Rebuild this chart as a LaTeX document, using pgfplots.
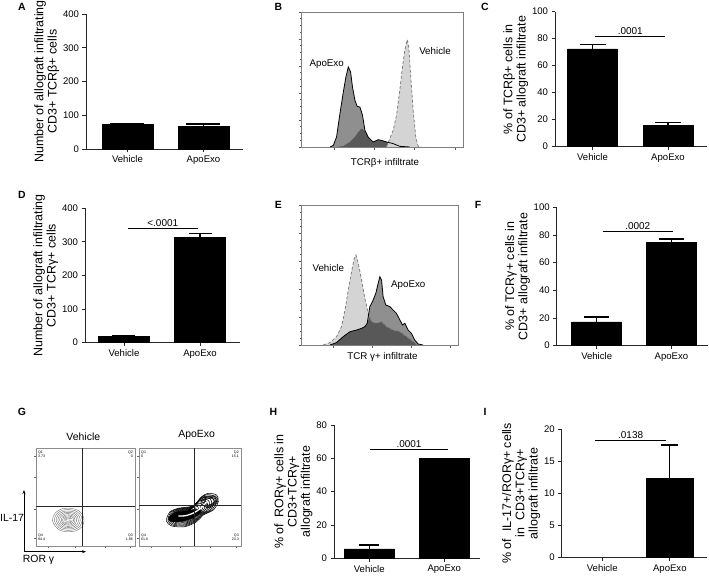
\documentclass[border=0pt]{standalone}
\usepackage{fontspec}
\setmainfont{Liberation Sans}
\usepackage{pgfplots}
\usepackage{pgfplotstable}
\pgfplotsset{compat=1.18}
\usetikzlibrary{arrows.meta}

\definecolor{histmid}{HTML}{8F8F8F}
\definecolor{histdark}{HTML}{585858}
\definecolor{histlight}{HTML}{D4D4D4}

\newcommand{\lfont}{\fontsize{12.5}{13.3}\selectfont}
\newcommand{\tfont}{\fontsize{9.6}{11}\selectfont}

\pgfplotsset{
 prism/.style={
   scale only axis, anchor=south west,
   axis lines*=left,
   axis line style={line width=0.9pt, black!85, -},
   every tick/.style={line width=0.9pt, black!85},
   major tick length=3.5bp,
   tick align=outside,
   xtick={0,1}, xticklabels={Vehicle,ApoExo},
   ymin=0, enlargelimits=false,
   /pgf/number format/assume math mode=true,
   tick label style={font=\tfont},
   every axis y label/.append style={font=\lfont, align=center},
   ylabel shift=-3bp,
   clip=false,
 },
 bars/.style={ybar, bar shift=0pt, fill=black, draw=black, line width=0.5pt,
   error bars/y dir=plus, error bars/y explicit,
   error bars/error bar style={line width=1.2pt, black},
   error bars/error mark options={rotate=90, mark size=#1, line width=1.2pt, black}},
 sig/.style={sharp plot, black, line width=0.6pt, forget plot},
 hist/.style={scale only axis, anchor=south west,
   xmin=0, xmax=100, ymin=0, ymax=1,
   axis line style={black!50, line width=0.6pt},
   xtick pos=left, ytick pos=left, tick align=outside,
   xticklabels={}, yticklabels={},
   major tick length=3bp, minor tick length=1.5bp,
   every tick/.style={black!65, line width=0.5pt},
   ytick={0,0.2,0.4,0.6,0.8,1}, minor y tick num=3,
   xtick={20,45,70,95},
   minor xtick={2,6,10,14,27.5,31.9,35.1,37.5,39.5,41.1,42.6,43.9,52.5,56.9,60.1,62.5,64.5,66.1,67.6,68.9,77.5,81.9,85.1,87.5,89.5,91.1,92.6,93.9},
 },
 gbox/.style={scale only axis, anchor=south west,
   xmin=0, xmax=100, ymin=0, ymax=100,
   axis line style={black!45, line width=0.5pt},
   xtick pos=left, ytick pos=left, tick align=outside,
   xticklabels={}, yticklabels={},
   major tick length=2bp, minor tick length=1bp,
   every tick/.style={black!60, line width=0.4pt},
   ytick={8,38,70,92}, minor y tick num=2,
   xtick={12,40,70,95}, minor x tick num=2,
 },
}

\pgfplotstableread{
x y
-15.8 0
-13 7
-6 11.5
2 12
10 10
15 5
16.2 -1
14 -7
8 -11
0 -12
-8 -10.5
-13 -6
}\vehring

\pgfplotstableread{
x y
27.2 28.3
30.4 35.0
38.5 38.5
50.0 40.1
56.5 43.6
61.4 50.3
67.9 53.8
76.1 52.0
77.7 45.2
72.8 36.7
63.0 31.6
56.5 24.8
45.1 19.7
32.0 20.4
27.2 24.8
}\aporing

\newcommand{\qfont}{\fontsize{3.6}{4}\selectfont}

\begin{document}
\begin{tikzpicture}
\useasboundingbox (0,0) rectangle (709bp,576bp);

% ---------------- A ----------------
\begin{axis}[prism, at={(86bp,427bp)}, width=157bp, height=135bp,
  xmin=-0.546, xmax=1.52, ymax=400, ytick={0,100,200,300,400},
  ylabel={Number of allograft infiltrating\\CD3+ TCRβ+ cells}]
\addplot[bar width=0.67, bars=17bp] coordinates {(0,73) +- (0,3) (1,66) +- (0,8)};
\end{axis}

% ---------------- B ----------------
\begin{axis}[hist, at={(301.7bp,429bp)}, width=161.3bp, height=135bp]
\addplot[fill=histmid, draw=none] coordinates {
(17.5,0) (19.6,0.012) (21.6,0.074) (23.7,0.247) (25.8,0.407) (27.4,0.519) (28.9,0.593)
(30.3,0.556) (31.5,0.444) (33.0,0.346) (34.4,0.301) (36.1,0.296) (37.7,0.235) (39.2,0.123)
(41.2,0.074) (44.3,0.037) (47.4,0.054) (49.5,0.049) (52.6,0.037) (56.7,0.025) (60.8,0.005) (67.0,0)} \closedcycle;
\addplot[fill=histdark, draw=none] coordinates {
(21.6,0) (25.8,0.007) (29.9,0.037) (33.0,0.074) (35.1,0.111) (37.1,0.136) (39.2,0.119)
(41.2,0.074) (44.3,0.037) (47.4,0.054) (49.5,0.049) (52.6,0.037) (56.7,0.025) (62.9,0.01) (69.1,0)} \closedcycle;
\addplot[fill=histlight, draw=black!50, dash pattern=on 3bp off 2bp, line width=0.8pt] coordinates {
(52.6,0) (54.6,0.062) (56.7,0.123) (58.8,0.235) (60.8,0.42) (62.5,0.593) (63.9,0.716)
(65.4,0.795) (66.4,0.741) (67.6,0.519) (69.1,0.272) (70.7,0.074) (72.2,0.005) (74.2,0)};
\addplot[black, line width=0.8pt] coordinates {
(17.5,0) (19.6,0.012) (21.6,0.074) (23.7,0.247) (25.8,0.407) (27.4,0.519) (28.9,0.593)
(30.3,0.556) (31.5,0.444) (33.0,0.346) (34.4,0.301) (36.1,0.296) (37.7,0.235) (39.2,0.123)
(41.2,0.074) (44.3,0.037) (47.4,0.054) (49.5,0.049) (52.6,0.037) (56.7,0.025) (60.8,0.005) (67.0,0)};
\end{axis}
\node[font=\fontsize{9.8}{11}\selectfont] at (326.7bp,512bp) {ApoExo};
\node[font=\fontsize{9.8}{11}\selectfont] at (435bp,525.3bp) {Vehicle};
\node[font=\fontsize{9.8}{11}\selectfont] at (385bp,413bp) {TCRβ+ infiltrate};

% ---------------- C ----------------
\begin{axis}[prism, at={(555bp,429.3bp)}, width=152bp, height=135bp,
  xmin=-0.497, xmax=1.517, ymax=100, ytick={0,20,40,60,80,100},
  ylabel={\% of TCRβ+ cells in\\CD3+ allograft infiltrate}]
\addplot[bar width=0.66, bars=13bp] coordinates {(0,72.5) +- (0,3.3) (1,15.6) +- (0,2.2)};
\addplot[sig] coordinates {(0.03,82) (0.96,82)};
\node[above, inner sep=1.5bp, font=\fontsize{10}{11}\selectfont] at (axis cs:0.5,82) {.0001};
\end{axis}

% ---------------- D ----------------
\begin{axis}[prism, at={(85bp,233.3bp)}, width=155bp, height=134.4bp,
  xmin=-0.513, xmax=1.526, ymax=400, ytick={0,100,200,300,400},
  ylabel={Number of allograft infiltrating\\CD3+ TCRγ+ cells}]
\addplot[bar width=0.67, bars=11.5bp] coordinates {(0,17.9) +- (0,3) (1,313.7) +- (0,12)};
\addplot[sig] coordinates {(0.05,340) (0.97,340)};
\node[above, inner sep=1.5bp, font=\fontsize{10}{11}\selectfont] at (axis cs:0.51,340) {<.0001};
\end{axis}

% ---------------- E ----------------
\begin{axis}[hist, at={(301.7bp,231bp)}, width=156.3bp, height=140bp]
\addplot[fill=histlight, draw=none] coordinates {
(13.8,0) (18.1,0.017) (22.3,0.06) (25.5,0.131) (27.7,0.25) (29.8,0.393) (31.9,0.524) (33.4,0.607)
(34.7,0.643) (36.2,0.583) (38.3,0.464) (40.4,0.333) (42.6,0.226) (44.7,0.167) (47.9,0.155)
(51.1,0.167) (54.3,0.131) (58.5,0.107) (62.8,0.095) (67.0,0.06) (71.3,0.024) (73.4,0.005) (75.5,0)} \closedcycle;
\addplot[fill=histmid, draw=none] coordinates {
(18.1,0) (22.3,0.017) (26.6,0.06) (30.9,0.095) (35.1,0.107) (38.3,0.119) (40.4,0.131) (41.9,0.155)
(43.6,0.274) (45.3,0.31) (47.4,0.369) (48.9,0.44) (50.0,0.488) (51.1,0.464) (52.1,0.345) (53.8,0.286)
(56.4,0.274) (58.5,0.25) (60.6,0.226) (62.8,0.179) (64.5,0.143) (66.0,0.155) (68.1,0.107) (70.2,0.083)
(72.3,0.036) (74.5,0.007) (77.7,0)} \closedcycle;
\addplot[fill=histdark, draw=none] coordinates {
(18.1,0) (22.3,0.017) (26.6,0.06) (30.9,0.095) (35.1,0.107) (38.3,0.119) (40.4,0.131) (41.9,0.155)
(43.6,0.2) (44.7,0.167) (47.9,0.155) (51.1,0.167) (54.3,0.131) (58.5,0.107) (62.8,0.095) (67.0,0.06)
(71.3,0.024) (73.4,0.005) (75.5,0)} \closedcycle;
\addplot[draw=black!50, dash pattern=on 3bp off 2bp, line width=0.8pt] coordinates {
(13.8,0) (18.1,0.017) (22.3,0.06) (25.5,0.131) (27.7,0.25) (29.8,0.393) (31.9,0.524) (33.4,0.607)
(34.7,0.643) (36.2,0.583) (38.3,0.464) (40.4,0.333) (42.6,0.226) (44.7,0.167) (47.9,0.155)
(51.1,0.167) (54.3,0.131) (58.5,0.107) (62.8,0.095) (67.0,0.06) (71.3,0.024) (73.4,0.005) (75.5,0)};
\addplot[black, line width=0.8pt] coordinates {
(18.1,0) (22.3,0.017) (26.6,0.06) (30.9,0.095) (35.1,0.107) (38.3,0.119) (40.4,0.131) (41.9,0.155)
(43.6,0.274) (45.3,0.31) (47.4,0.369) (48.9,0.44) (50.0,0.488) (51.1,0.464) (52.1,0.345) (53.8,0.286)
(56.4,0.274) (58.5,0.25) (60.6,0.226) (62.8,0.179) (64.5,0.143) (66.0,0.155) (68.1,0.107) (70.2,0.083)
(72.3,0.036) (74.5,0.007) (77.7,0)};
\end{axis}
\node[font=\fontsize{9.8}{11}\selectfont] at (328.3bp,307.7bp) {Vehicle};
\node[font=\fontsize{9.8}{11}\selectfont] at (408.3bp,291bp) {ApoExo};
\node[font=\fontsize{9.8}{11}\selectfont] at (382.5bp,219bp) {TCR γ+ infiltrate};

% ---------------- F ----------------
\begin{axis}[prism, at={(556.7bp,230.3bp)}, width=151.3bp, height=138.4bp,
  xmin=-0.535, xmax=1.49, ymax=100, ytick={0,20,40,60,80,100},
  ylabel={\% of TCRγ+ cells in\\CD3+ allograft infiltrate}]
\addplot[bar width=0.67, bars=12.5bp] coordinates {(0,17.3) +- (0,3.4) (1,74.7) +- (0,2.4)};
\addplot[sig] coordinates {(0.08,83) (1.02,83)};
\node[above, inner sep=1.5bp, font=\fontsize{10}{11}\selectfont] at (axis cs:0.55,83) {.0002};
\end{axis}

% ---------------- G ----------------
\begin{axis}[gbox, at={(36bp,30bp)}, width=99bp, height=98bp]
\pgfplotsinvokeforeach{1.0,0.88,0.76,0.65,0.54,0.44,0.35,0.26,0.18,0.1}{
  \addplot[smooth cycle, black!55, line width=0.4pt] table[x expr=32.3+#1*\thisrow{x}, y expr=26.5+#1*\thisrow{y}] {\vehring};
}
\addplot[smooth, white, line width=0.8pt] coordinates {(28,24.5) (32,26) (37,27.5)};
\addplot[black!85, line width=0.7pt] coordinates {(47.2,0) (47.2,100)};
\addplot[black!85, line width=0.7pt] coordinates {(0,40.1) (100,40.1)};
\node[anchor=north west, align=left, font=\qfont, inner sep=1bp] at (rel axis cs:0.01,0.98) {Q1\\3.73};
\node[anchor=north east, align=right, font=\qfont, inner sep=1bp] at (rel axis cs:0.99,0.98) {Q2\\0};
\node[anchor=south west, align=left, font=\qfont, inner sep=1bp] at (rel axis cs:0.01,0.04) {Q4\\94.4};
\node[anchor=south east, align=right, font=\qfont, inner sep=1bp] at (rel axis cs:0.99,0.04) {Q3\\1.86};
\end{axis}

\begin{axis}[gbox, at={(139bp,30bp)}, width=102bp, height=98bp]
\pgfplotsinvokeforeach{1.0,0.93,0.86,0.79,0.72,0.65,0.58,0.51,0.44,0.37,0.3}{
  \addplot[smooth cycle, black, line width=0.55pt] table[x expr=47+#1*(\thisrow{x}-47), y expr=33+#1*(\thisrow{y}-33)] {\aporing};
}
\addplot[smooth cycle, fill=black, draw=black] coordinates {(29,29) (36,34.5) (46,35.5) (55,37.5) (61,36) (57,31) (47,26.5) (37,24.5) (30,25.5)};
\pgfplotsinvokeforeach{1.0,0.8,0.6,0.4}{
  \addplot[smooth cycle, black, line width=0.55pt] coordinates {({69-8*#1},{46-3*#1}) ({66-2*#1},{46+4*#1}) ({69+6*#1},{47+4*#1}) ({72+5*#1},{46-1*#1}) ({68+1*#1},{43-4*#1})};
}
\addplot[smooth, white, line width=1.3pt] coordinates {(38.5,30.6) (46,31) (54,34) (61,39) (66.4,45.2)};
\addplot[black!85, line width=0.7pt] coordinates {(53.9,0) (53.9,100)};
\addplot[black!85, line width=0.7pt] coordinates {(0,41.1) (100,41.1)};
\node[anchor=north west, align=left, font=\qfont, inner sep=1bp] at (rel axis cs:0.01,0.98) {Q1\\0};
\node[anchor=north east, align=right, font=\qfont, inner sep=1bp] at (rel axis cs:0.99,0.98) {Q2\\15.1};
\node[anchor=south west, align=left, font=\qfont, inner sep=1bp] at (rel axis cs:0.01,0.04) {Q4\\61.6};
\node[anchor=south east, align=right, font=\qfont, inner sep=1bp] at (rel axis cs:0.99,0.04) {Q3\\23.3};
\end{axis}
\node[font=\fontsize{10.5}{12}\selectfont] at (83.3bp,139.3bp) {Vehicle};
\node[font=\fontsize{10.5}{12}\selectfont] at (196.7bp,141bp) {ApoExo};
\draw[-{Stealth[length=4bp,width=3bp]}, line width=0.8pt] (24bp,24.3bp) -- (24bp,86bp);
\draw[-{Stealth[length=4bp,width=3bp]}, line width=0.8pt] (24bp,24.3bp) -- (86bp,24.3bp);
\node[anchor=west, font=\fontsize{10.5}{12}\selectfont, inner sep=0pt] at (0bp,58bp) {IL-17};
\node[font=\fontsize{10.5}{12}\selectfont] at (38.5bp,16bp) {ROR γ};

% ---------------- H ----------------
\begin{axis}[prism, at={(334bp,17.7bp)}, width=146bp, height=133.3bp,
  xmin=-0.47, xmax=1.476, ymax=80, ytick={0,20,40,60,80},
  ylabel={\% of~ RORγ+ cells in\\CD3+TCRγ+\\allograft infiltrate}]
\addplot[bar width=0.67, bars=10bp] coordinates {(0,5.6) +- (0,2.4) (1,59.8) +- (0,0.2)};
\addplot[sig] coordinates {(0.01,65.6) (1.05,65.6)};
\node[above, inner sep=1.5bp, font=\fontsize{10}{11}\selectfont] at (axis cs:0.53,65.6) {.0001};
\end{axis}

% ---------------- I ----------------
\begin{axis}[prism, at={(561.7bp,18.3bp)}, width=145.3bp, height=128.7bp,
  xmin=-0.6, xmax=1.55, ymax=20, ytick={0,5,10,15,20},
  ylabel={\% of~ IL-17+/RORγ+ cells\\in~ CD3+TCRγ+\\allograft infiltrate}]
\addplot[bar width=0.69, bars=8.5bp] coordinates {(1,12.3) +- (0,5.2)};
\addplot[sig] coordinates {(-0.11,18.2) (0.95,18.2)};
\node[above, inner sep=1.5bp, font=\fontsize{10}{11}\selectfont] at (axis cs:0.42,18.2) {.0138};
\end{axis}

% panel letters
\begin{scope}[font=\bfseries\fontsize{10.5}{12}\selectfont]
\node at (22bp,569bp) {A};
\node at (278.3bp,569bp) {B};
\node at (485bp,569bp) {C};
\node at (22bp,381bp) {D};
\node at (278.3bp,371bp) {E};
\node at (478bp,371bp) {F};
\node at (22bp,164bp) {G};
\node at (273.3bp,164.3bp) {H};
\node at (485bp,164.3bp) {I};
\end{scope}
\end{tikzpicture}
\end{document}
